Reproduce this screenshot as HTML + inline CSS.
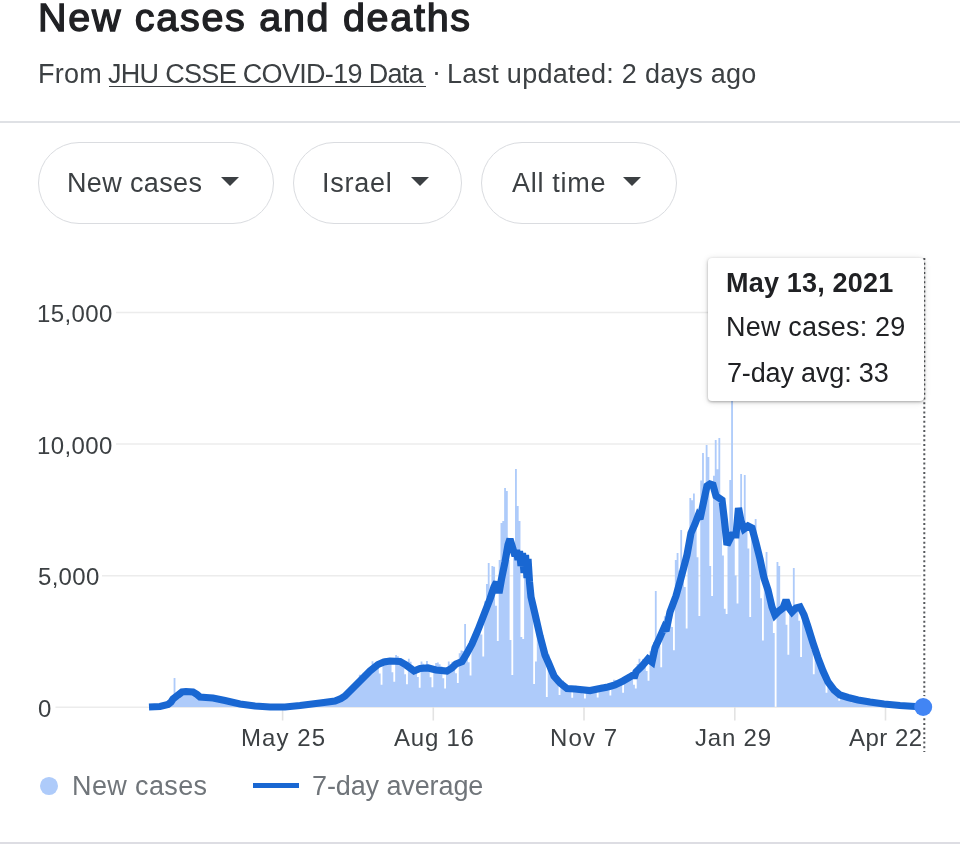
<!DOCTYPE html>
<html lang="en">
<head>
<meta charset="utf-8">
<title>New cases and deaths</title>
<style>
html,body{margin:0;padding:0;background:#fff;}
body{width:960px;height:844px;position:relative;overflow:hidden;font-family:"Liberation Sans", sans-serif;}
.t{position:absolute;white-space:pre;line-height:1;will-change:transform;font-family:"Liberation Sans", sans-serif;}
.chart{position:absolute;left:0;top:0;}
.divider{position:absolute;left:0;width:960px;top:121px;height:2px;background:#dfe1e5;}
.pill{position:absolute;top:141.5px;height:82.5px;box-sizing:border-box;border:1.6px solid #dadce0;border-radius:41px;background:#fff;}
.tri{position:absolute;width:0;height:0;border-left:9.5px solid transparent;border-right:9.5px solid transparent;border-top:9.5px solid #3c4043;top:177px;}
.link{position:absolute;left:108.5px;width:317.7px;top:85.8px;height:1.6px;background:#3c4043;}
.tip{position:absolute;left:707.6px;top:257.5px;width:216px;height:143px;background:#fff;border-radius:4px;box-shadow:0 1px 3px rgba(0,0,0,.30),0 1px 7px rgba(0,0,0,.13);}
.ldot{position:absolute;left:40px;top:777.2px;width:17.8px;height:17.8px;border-radius:50%;background:#aecbfa;}
.lline{position:absolute;left:253px;top:783px;width:46px;height:5.4px;background:#1967d2;}
.foot{position:absolute;left:0;top:842px;width:960px;height:2px;background:#dddde3;}
</style>
</head>
<body>
<svg class="chart" width="960" height="844" viewBox="0 0 960 844">
<g stroke="#ececec" stroke-width="1.6">
<line x1="116" y1="312.5" x2="921" y2="312.5"/>
<line x1="116" y1="444" x2="921" y2="444"/>
<line x1="102" y1="575.8" x2="921" y2="575.8"/>
<line x1="55.5" y1="707.2" x2="921" y2="707.2"/>
</g>
<g stroke="#e3e3e3" stroke-width="1.6">
<line x1="282.6" y1="707" x2="282.6" y2="720.5"/>
<line x1="433.3" y1="707" x2="433.3" y2="720.5"/>
<line x1="584" y1="707" x2="584" y2="720.5"/>
<line x1="734.8" y1="707" x2="734.8" y2="720.5"/>
<line x1="885.5" y1="707" x2="885.5" y2="720.5"/>
</g>
<path d="M160.91,707.0V706.0h1.816V707.0zM162.73,707.0V705.6h1.816V707.0zM164.54,707.0V705.2h1.816V707.0zM166.36,707.0V704.6h1.816V707.0zM168.18,707.0V703.2h1.816V707.0zM169.99,707.0V701.6h1.816V707.0zM171.81,707.0V698.2h1.816V707.0zM173.62,707.0V678.0h1.816V707.0zM175.44,707.0V696.5h1.816V707.0zM177.26,707.0V695.3h1.816V707.0zM179.07,707.0V690.8h1.816V707.0zM180.89,707.0V689.3h1.816V707.0zM182.70,707.0V690.3h1.816V707.0zM184.52,707.0V688.7h1.816V707.0zM186.34,707.0V691.6h1.816V707.0zM188.15,707.0V691.9h1.816V707.0zM189.97,707.0V692.4h1.816V707.0zM191.78,707.0V691.1h1.816V707.0zM193.60,707.0V691.4h1.816V707.0zM195.42,707.0V693.0h1.816V707.0zM197.23,707.0V693.7h1.816V707.0zM199.05,707.0V696.7h1.816V707.0zM200.86,707.0V697.3h1.816V707.0zM202.68,707.0V697.6h1.816V707.0zM204.50,707.0V696.5h1.816V707.0zM206.31,707.0V695.8h1.816V707.0zM208.13,707.0V697.3h1.816V707.0zM209.94,707.0V697.6h1.816V707.0zM211.76,707.0V697.7h1.816V707.0zM213.58,707.0V698.4h1.816V707.0zM215.39,707.0V699.0h1.816V707.0zM217.21,707.0V698.4h1.816V707.0zM219.02,707.0V698.0h1.816V707.0zM220.84,707.0V699.0h1.816V707.0zM222.66,707.0V699.8h1.816V707.0zM224.47,707.0V699.7h1.816V707.0zM226.29,707.0V701.1h1.816V707.0zM228.10,707.0V701.6h1.816V707.0zM229.92,707.0V701.2h1.816V707.0zM231.74,707.0V701.4h1.816V707.0zM233.55,707.0V701.9h1.816V707.0zM235.37,707.0V702.6h1.816V707.0zM237.18,707.0V703.4h1.816V707.0zM239.00,707.0V704.0h1.816V707.0zM240.82,707.0V704.3h1.816V707.0zM242.63,707.0V704.2h1.816V707.0zM244.45,707.0V704.2h1.816V707.0zM246.26,707.0V704.8h1.816V707.0zM248.08,707.0V705.0h1.816V707.0zM249.90,707.0V705.4h1.816V707.0zM251.71,707.0V705.7h1.816V707.0zM253.53,707.0V706.0h1.816V707.0zM255.34,707.0V706.0h1.816V707.0zM257.16,707.0V706.0h1.816V707.0zM258.98,707.0V706.3h1.816V707.0zM260.79,707.0V706.4h1.816V707.0zM291.66,707.0V706.3h1.816V707.0zM293.48,707.0V706.0h1.816V707.0zM295.30,707.0V705.8h1.816V707.0zM297.11,707.0V705.6h1.816V707.0zM298.93,707.0V705.3h1.816V707.0zM300.74,707.0V705.3h1.816V707.0zM302.56,707.0V705.1h1.816V707.0zM304.38,707.0V704.9h1.816V707.0zM306.19,707.0V704.2h1.816V707.0zM308.01,707.0V704.1h1.816V707.0zM309.82,707.0V703.8h1.816V707.0zM311.64,707.0V703.6h1.816V707.0zM313.46,707.0V703.2h1.816V707.0zM315.27,707.0V703.5h1.816V707.0zM317.09,707.0V703.4h1.816V707.0zM318.90,707.0V702.7h1.816V707.0zM320.72,707.0V702.1h1.816V707.0zM322.54,707.0V702.1h1.816V707.0zM324.35,707.0V701.5h1.816V707.0zM326.17,707.0V701.3h1.816V707.0zM327.98,707.0V701.9h1.816V707.0zM329.80,707.0V701.8h1.816V707.0zM331.62,707.0V700.9h1.816V707.0zM333.43,707.0V700.3h1.816V707.0zM335.25,707.0V699.8h1.816V707.0zM337.06,707.0V698.9h1.816V707.0zM338.88,707.0V698.7h1.816V707.0zM340.70,707.0V698.3h1.816V707.0zM342.51,707.0V697.3h1.816V707.0zM344.33,707.0V694.7h1.816V707.0zM346.14,707.0V691.4h1.816V707.0zM347.96,707.0V689.1h1.816V707.0zM349.78,707.0V688.1h1.816V707.0zM351.59,707.0V687.0h1.816V707.0zM353.41,707.0V686.9h1.816V707.0zM355.22,707.0V685.6h1.816V707.0zM357.04,707.0V682.1h1.816V707.0zM358.86,707.0V674.7h1.816V707.0zM360.67,707.0V674.7h1.816V707.0zM362.49,707.0V672.7h1.816V707.0zM364.30,707.0V671.7h1.816V707.0zM366.12,707.0V674.4h1.816V707.0zM367.94,707.0V673.3h1.816V707.0zM369.75,707.0V668.7h1.816V707.0zM371.57,707.0V661.2h1.816V707.0zM373.38,707.0V665.9h1.816V707.0zM375.20,707.0V665.1h1.816V707.0zM377.02,707.0V663.3h1.816V707.0zM378.83,707.0V673.5h1.816V707.0zM380.65,707.0V684.7h1.816V707.0zM382.46,707.0V660.5h1.816V707.0zM384.28,707.0V657.9h1.816V707.0zM386.10,707.0V658.9h1.816V707.0zM387.91,707.0V659.8h1.816V707.0zM389.73,707.0V658.4h1.816V707.0zM391.54,707.0V672.2h1.816V707.0zM393.36,707.0V681.8h1.816V707.0zM395.18,707.0V654.9h1.816V707.0zM396.99,707.0V656.2h1.816V707.0zM398.81,707.0V658.0h1.816V707.0zM400.62,707.0V659.1h1.816V707.0zM402.44,707.0V661.0h1.816V707.0zM404.26,707.0V674.3h1.816V707.0zM406.07,707.0V684.3h1.816V707.0zM407.89,707.0V658.8h1.816V707.0zM409.70,707.0V661.8h1.816V707.0zM411.52,707.0V665.5h1.816V707.0zM413.34,707.0V669.9h1.816V707.0zM415.15,707.0V669.7h1.816V707.0zM416.97,707.0V676.9h1.816V707.0zM418.78,707.0V687.8h1.816V707.0zM420.60,707.0V661.5h1.816V707.0zM422.42,707.0V663.8h1.816V707.0zM424.23,707.0V666.8h1.816V707.0zM426.05,707.0V661.1h1.816V707.0zM427.86,707.0V664.9h1.816V707.0zM429.68,707.0V677.3h1.816V707.0zM431.50,707.0V687.2h1.816V707.0zM433.31,707.0V668.2h1.816V707.0zM435.13,707.0V663.1h1.816V707.0zM436.94,707.0V662.6h1.816V707.0zM438.76,707.0V664.3h1.816V707.0zM440.58,707.0V666.3h1.816V707.0zM442.39,707.0V678.3h1.816V707.0zM444.21,707.0V688.6h1.816V707.0zM446.02,707.0V668.8h1.816V707.0zM447.84,707.0V661.4h1.816V707.0zM449.66,707.0V664.1h1.816V707.0zM451.47,707.0V661.7h1.816V707.0zM453.29,707.0V663.7h1.816V707.0zM455.10,707.0V673.3h1.816V707.0zM456.92,707.0V683.1h1.816V707.0zM458.74,707.0V653.3h1.816V707.0zM460.55,707.0V650.6h1.816V707.0zM462.37,707.0V651.1h1.816V707.0zM464.18,707.0V624.0h1.816V707.0zM466.00,707.0V646.8h1.816V707.0zM467.82,707.0V662.3h1.816V707.0zM469.63,707.0V675.5h1.816V707.0zM471.45,707.0V637.2h1.816V707.0zM473.26,707.0V632.7h1.816V707.0zM475.08,707.0V632.1h1.816V707.0zM476.90,707.0V625.8h1.816V707.0zM478.71,707.0V622.7h1.816V707.0zM480.53,707.0V634.4h1.816V707.0zM482.34,707.0V656.5h1.816V707.0zM484.16,707.0V601.2h1.816V707.0zM485.98,707.0V584.1h1.816V707.0zM487.79,707.0V563.0h1.816V707.0zM489.61,707.0V591.0h1.816V707.0zM491.42,707.0V566.0h1.816V707.0zM493.24,707.0V566.7h1.816V707.0zM495.06,707.0V605.8h1.816V707.0zM496.87,707.0V641.0h1.816V707.0zM498.69,707.0V560.0h1.816V707.0zM500.50,707.0V523.0h1.816V707.0zM502.32,707.0V521.0h1.816V707.0zM504.14,707.0V488.0h1.816V707.0zM505.95,707.0V491.0h1.816V707.0zM507.77,707.0V560.0h1.816V707.0zM509.58,707.0V640.0h1.816V707.0zM511.40,707.0V675.0h1.816V707.0zM513.22,707.0V545.0h1.816V707.0zM515.03,707.0V469.0h1.816V707.0zM516.85,707.0V506.0h1.816V707.0zM518.66,707.0V521.0h1.816V707.0zM520.48,707.0V637.0h1.816V707.0zM522.30,707.0V639.1h1.816V707.0zM524.11,707.0V565.1h1.816V707.0zM525.93,707.0V579.4h1.816V707.0zM527.74,707.0V573.1h1.816V707.0zM529.56,707.0V595.1h1.816V707.0zM531.38,707.0V605.6h1.816V707.0zM533.19,707.0V684.0h1.816V707.0zM535.01,707.0V661.5h1.816V707.0zM536.82,707.0V628.5h1.816V707.0zM538.64,707.0V636.2h1.816V707.0zM540.46,707.0V643.2h1.816V707.0zM542.27,707.0V642.5h1.816V707.0zM544.09,707.0V661.6h1.816V707.0zM545.90,707.0V697.0h1.816V707.0zM547.72,707.0V654.6h1.816V707.0zM549.54,707.0V660.3h1.816V707.0zM551.35,707.0V667.4h1.816V707.0zM553.17,707.0V672.9h1.816V707.0zM554.98,707.0V678.3h1.816V707.0zM556.80,707.0V685.3h1.816V707.0zM558.62,707.0V694.9h1.816V707.0zM560.43,707.0V683.3h1.816V707.0zM562.25,707.0V680.4h1.816V707.0zM564.06,707.0V685.7h1.816V707.0zM565.88,707.0V686.6h1.816V707.0zM567.70,707.0V686.4h1.816V707.0zM569.51,707.0V691.9h1.816V707.0zM571.33,707.0V697.8h1.816V707.0zM573.14,707.0V686.7h1.816V707.0zM574.96,707.0V685.7h1.816V707.0zM576.78,707.0V686.2h1.816V707.0zM578.59,707.0V688.9h1.816V707.0zM580.41,707.0V688.1h1.816V707.0zM582.22,707.0V693.5h1.816V707.0zM584.04,707.0V698.5h1.816V707.0zM585.86,707.0V687.3h1.816V707.0zM587.67,707.0V687.3h1.816V707.0zM589.49,707.0V688.2h1.816V707.0zM591.30,707.0V687.6h1.816V707.0zM593.12,707.0V687.1h1.816V707.0zM594.94,707.0V692.6h1.816V707.0zM596.75,707.0V697.5h1.816V707.0zM598.57,707.0V686.4h1.816V707.0zM600.38,707.0V684.8h1.816V707.0zM602.20,707.0V685.0h1.816V707.0zM604.02,707.0V685.8h1.816V707.0zM605.83,707.0V685.5h1.816V707.0zM607.65,707.0V690.5h1.816V707.0zM609.46,707.0V695.5h1.816V707.0zM611.28,707.0V682.5h1.816V707.0zM613.10,707.0V679.8h1.816V707.0zM614.91,707.0V680.1h1.816V707.0zM616.73,707.0V682.3h1.816V707.0zM618.54,707.0V680.6h1.816V707.0zM620.36,707.0V684.9h1.816V707.0zM622.18,707.0V692.7h1.816V707.0zM623.99,707.0V678.4h1.816V707.0zM625.81,707.0V675.8h1.816V707.0zM627.62,707.0V674.6h1.816V707.0zM629.44,707.0V676.0h1.816V707.0zM631.26,707.0V674.5h1.816V707.0zM633.07,707.0V684.8h1.816V707.0zM634.89,707.0V688.6h1.816V707.0zM636.70,707.0V664.1h1.816V707.0zM638.52,707.0V658.8h1.816V707.0zM640.34,707.0V664.4h1.816V707.0zM642.15,707.0V658.9h1.816V707.0zM643.97,707.0V657.9h1.816V707.0zM645.78,707.0V671.1h1.816V707.0zM647.60,707.0V680.7h1.816V707.0zM649.42,707.0V651.3h1.816V707.0zM651.23,707.0V655.5h1.816V707.0zM653.05,707.0V642.0h1.816V707.0zM654.86,707.0V591.0h1.816V707.0zM656.68,707.0V637.3h1.816V707.0zM658.50,707.0V646.3h1.816V707.0zM660.31,707.0V667.2h1.816V707.0zM662.13,707.0V625.6h1.816V707.0zM663.94,707.0V616.3h1.816V707.0zM665.76,707.0V618.1h1.816V707.0zM667.58,707.0V612.9h1.816V707.0zM669.39,707.0V608.6h1.816V707.0zM671.21,707.0V626.9h1.816V707.0zM673.02,707.0V650.2h1.816V707.0zM674.84,707.0V560.0h1.816V707.0zM676.66,707.0V553.0h1.816V707.0zM678.47,707.0V570.4h1.816V707.0zM680.29,707.0V530.0h1.816V707.0zM682.10,707.0V563.3h1.816V707.0zM683.92,707.0V586.9h1.816V707.0zM685.74,707.0V628.5h1.816V707.0zM687.55,707.0V540.3h1.816V707.0zM689.37,707.0V498.0h1.816V707.0zM691.18,707.0V500.2h1.816V707.0zM693.00,707.0V493.4h1.816V707.0zM694.82,707.0V519.9h1.816V707.0zM696.63,707.0V557.2h1.816V707.0zM698.45,707.0V616.0h1.816V707.0zM700.26,707.0V480.5h1.816V707.0zM702.08,707.0V453.0h1.816V707.0zM703.90,707.0V484.9h1.816V707.0zM705.71,707.0V445.0h1.816V707.0zM707.53,707.0V457.0h1.816V707.0zM709.34,707.0V566.0h1.816V707.0zM711.16,707.0V595.9h1.816V707.0zM712.98,707.0V475.7h1.816V707.0zM714.79,707.0V439.9h1.816V707.0zM716.61,707.0V469.2h1.816V707.0zM718.42,707.0V438.0h1.816V707.0zM720.24,707.0V497.6h1.816V707.0zM722.06,707.0V555.4h1.816V707.0zM723.87,707.0V608.8h1.816V707.0zM725.69,707.0V614.0h1.816V707.0zM727.50,707.0V542.2h1.816V707.0zM729.32,707.0V480.0h1.816V707.0zM731.14,707.0V392.0h1.816V707.0zM732.95,707.0V535.0h1.816V707.0zM734.77,707.0V575.4h1.816V707.0zM736.58,707.0V603.6h1.816V707.0zM738.40,707.0V512.2h1.816V707.0zM740.22,707.0V474.0h1.816V707.0zM742.03,707.0V526.2h1.816V707.0zM743.85,707.0V475.0h1.816V707.0zM745.66,707.0V527.1h1.816V707.0zM747.48,707.0V548.6h1.816V707.0zM749.30,707.0V616.9h1.816V707.0zM751.11,707.0V528.1h1.816V707.0zM752.93,707.0V534.9h1.816V707.0zM754.74,707.0V519.0h1.816V707.0zM756.56,707.0V548.9h1.816V707.0zM758.38,707.0V556.1h1.816V707.0zM760.19,707.0V598.3h1.816V707.0zM762.01,707.0V640.6h1.816V707.0zM763.82,707.0V580.2h1.816V707.0zM765.64,707.0V552.0h1.816V707.0zM767.46,707.0V591.5h1.816V707.0zM769.27,707.0V599.3h1.816V707.0zM771.09,707.0V607.0h1.816V707.0zM772.90,707.0V633.0h1.816V707.0zM776.54,707.0V562.0h1.816V707.0zM778.35,707.0V566.0h1.816V707.0zM780.17,707.0V609.4h1.816V707.0zM781.98,707.0V608.1h1.816V707.0zM783.80,707.0V603.4h1.816V707.0zM785.62,707.0V624.7h1.816V707.0zM787.43,707.0V654.8h1.816V707.0zM789.25,707.0V609.5h1.816V707.0zM791.06,707.0V612.0h1.816V707.0zM792.88,707.0V568.0h1.816V707.0zM794.70,707.0V608.4h1.816V707.0zM796.51,707.0V607.6h1.816V707.0zM798.33,707.0V620.8h1.816V707.0zM800.14,707.0V657.0h1.816V707.0zM801.96,707.0V612.7h1.816V707.0zM803.78,707.0V617.1h1.816V707.0zM805.59,707.0V622.5h1.816V707.0zM807.41,707.0V622.3h1.816V707.0zM809.22,707.0V623.8h1.816V707.0zM811.04,707.0V649.9h1.816V707.0zM812.86,707.0V674.2h1.816V707.0zM814.67,707.0V644.9h1.816V707.0zM816.49,707.0V648.5h1.816V707.0zM818.30,707.0V659.3h1.816V707.0zM820.12,707.0V664.4h1.816V707.0zM821.94,707.0V670.4h1.816V707.0zM823.75,707.0V679.5h1.816V707.0zM825.57,707.0V692.8h1.816V707.0zM827.38,707.0V680.9h1.816V707.0zM829.20,707.0V682.6h1.816V707.0zM831.02,707.0V683.7h1.816V707.0zM832.83,707.0V686.8h1.816V707.0zM834.65,707.0V689.6h1.816V707.0zM836.46,707.0V695.8h1.816V707.0zM838.28,707.0V700.7h1.816V707.0zM840.10,707.0V694.3h1.816V707.0zM841.91,707.0V694.0h1.816V707.0zM843.73,707.0V695.8h1.816V707.0zM845.54,707.0V696.1h1.816V707.0zM847.36,707.0V697.2h1.816V707.0zM849.18,707.0V699.1h1.816V707.0zM850.99,707.0V702.2h1.816V707.0zM852.81,707.0V697.9h1.816V707.0zM854.62,707.0V698.4h1.816V707.0zM856.44,707.0V698.4h1.816V707.0zM858.26,707.0V699.7h1.816V707.0zM860.07,707.0V700.1h1.816V707.0zM861.89,707.0V702.3h1.816V707.0zM863.70,707.0V704.0h1.816V707.0zM865.52,707.0V700.8h1.816V707.0zM867.34,707.0V700.8h1.816V707.0zM869.15,707.0V701.7h1.816V707.0zM870.97,707.0V701.8h1.816V707.0zM872.78,707.0V702.6h1.816V707.0zM874.60,707.0V703.7h1.816V707.0zM876.42,707.0V705.1h1.816V707.0zM878.23,707.0V702.9h1.816V707.0zM880.05,707.0V703.2h1.816V707.0zM881.86,707.0V703.7h1.816V707.0zM883.68,707.0V703.9h1.816V707.0zM885.50,707.0V704.1h1.816V707.0zM887.31,707.0V704.8h1.816V707.0zM889.13,707.0V705.7h1.816V707.0zM890.94,707.0V704.4h1.816V707.0zM892.76,707.0V704.5h1.816V707.0zM894.58,707.0V704.8h1.816V707.0zM896.39,707.0V705.0h1.816V707.0zM898.21,707.0V705.3h1.816V707.0zM900.02,707.0V705.9h1.816V707.0zM901.84,707.0V706.3h1.816V707.0zM903.66,707.0V705.7h1.816V707.0zM905.47,707.0V705.7h1.816V707.0zM907.29,707.0V705.9h1.816V707.0zM909.10,707.0V706.1h1.816V707.0zM910.92,707.0V706.2h1.816V707.0z" fill="#aecbfa" shape-rendering="geometricPrecision"/>
<line x1="924.3" y1="258" x2="924.3" y2="752" stroke="#55585c" stroke-width="2" stroke-dasharray="2 2.65"/>
<circle cx="923.2" cy="707" r="11" fill="#fff"/>
<path d="M149.0,707.0 L160.0,706.5 L168.0,704.5 L171.0,702.0 L173.0,699.0 L178.0,695.0 L182.0,692.0 L186.0,691.5 L193.0,692.0 L197.0,694.5 L200.0,697.0 L206.0,697.5 L213.0,698.0 L225.0,700.5 L240.0,704.0 L255.0,706.0 L270.0,707.0 L285.0,707.0 L300.0,705.5 L320.0,703.0 L335.0,701.0 L341.0,698.5 L345.0,696.0 L350.0,691.0 L355.0,686.0 L360.0,681.0 L365.0,676.0 L370.0,671.0 L378.0,664.5 L384.0,662.0 L390.0,661.0 L400.0,661.5 L406.0,665.0 L414.0,671.0 L420.0,668.5 L428.0,668.0 L436.0,670.0 L447.0,671.0 L452.0,668.0 L456.0,664.0 L462.0,661.5 L466.0,655.0 L472.0,644.0 L478.0,630.0 L484.0,614.5 L490.0,599.0 L494.0,587.0 L496.5,582.0 L499.0,593.0 L501.5,579.0 L505.0,562.0 L508.0,545.0 L510.0,539.0 L513.0,549.0 L515.0,556.0 L516.5,550.0 L518.0,560.0 L519.5,551.0 L521.0,566.0 L522.5,553.0 L524.0,573.0 L525.5,555.0 L527.0,578.0 L528.0,559.0 L529.5,582.0 L531.0,597.0 L535.0,614.0 L540.0,636.0 L545.0,655.0 L549.0,664.0 L554.0,676.0 L560.0,683.0 L567.0,688.5 L575.0,689.0 L590.0,690.5 L600.0,688.5 L608.0,687.0 L615.0,685.0 L623.0,681.0 L630.0,677.0 L633.0,675.0 L634.0,678.0 L636.0,672.0 L642.0,666.0 L648.0,659.0 L652.0,662.0 L655.0,648.0 L660.0,637.0 L664.0,628.0 L666.0,631.0 L670.0,612.0 L676.0,596.0 L681.0,578.0 L687.0,555.0 L691.0,533.0 L695.0,524.0 L698.0,516.0 L700.0,519.0 L704.0,500.0 L707.0,486.0 L710.0,484.0 L713.0,485.0 L716.0,496.0 L719.0,498.0 L722.0,500.0 L724.5,521.0 L727.0,545.0 L729.0,541.0 L732.0,535.0 L736.0,535.0 L738.5,508.0 L741.0,521.0 L744.0,529.0 L748.0,526.0 L752.0,528.0 L756.0,543.0 L760.0,559.0 L764.0,578.0 L768.0,590.0 L772.0,607.0 L775.0,615.0 L779.0,611.0 L783.0,608.0 L786.0,600.0 L789.0,608.0 L792.0,612.0 L796.0,608.0 L800.0,607.0 L804.0,615.0 L808.0,627.0 L813.0,643.0 L818.0,658.0 L823.0,671.0 L828.0,682.0 L834.0,690.0 L840.0,695.0 L848.0,697.5 L858.0,700.0 L870.0,702.0 L884.0,704.0 L900.0,705.5 L923.2,707.0" fill="none" stroke="#1967d2" stroke-width="7.2" stroke-linejoin="miter" stroke-miterlimit="2.5" stroke-linecap="butt"/>
<circle cx="923.2" cy="707" r="9" fill="#4285f4"/>
</svg>
<div class="divider"></div>
<div class="pill" style="left:37.75px;width:236.5px"></div>
<div class="pill" style="left:293.3px;width:169px"></div>
<div class="pill" style="left:481.3px;width:195.5px"></div>
<div class="tri" style="left:220.5px"></div>
<div class="tri" style="left:411px"></div>
<div class="tri" style="left:623.3px"></div>
<div class="tip"></div>
<div class="link"></div>
<div class="ldot"></div>
<div class="lline"></div>
<div class="foot"></div>

<div class="t" id="title" style="left:37.65px;top:-1.84px;font-size:39.5px;font-weight:400;color:#202124;letter-spacing:1.708px;-webkit-text-stroke:1.30px #202124">New cases and deaths</div>
<div class="t" id="s1" style="left:37.75px;top:61.34px;font-size:27px;font-weight:400;color:#3c4043;letter-spacing:0.250px">From</div>
<div class="t" id="s2" style="left:108.40px;top:61.34px;font-size:27px;font-weight:400;color:#3c4043;letter-spacing:-0.690px">JHU CSSE COVID-19 Data</div>
<div class="t" id="s3" style="left:432.20px;top:59.44px;font-size:27px;font-weight:400;color:#3c4043;letter-spacing:0.000px">·</div>
<div class="t" id="s4" style="left:447.10px;top:61.34px;font-size:27px;font-weight:400;color:#3c4043;letter-spacing:0.267px">Last updated: 2 days ago</div>
<div class="t" id="p1" style="left:67.40px;top:169.64px;font-size:27px;font-weight:400;color:#3c4043;letter-spacing:0.363px">New cases</div>
<div class="t" id="p2" style="left:321.70px;top:169.64px;font-size:27px;font-weight:400;color:#3c4043;letter-spacing:0.740px">Israel</div>
<div class="t" id="p3" style="left:511.80px;top:169.64px;font-size:27px;font-weight:400;color:#3c4043;letter-spacing:0.700px">All time</div>
<div class="t" id="y3" style="left:37.40px;top:301.68px;font-size:24px;font-weight:400;color:#3c4043;letter-spacing:0.400px">15,000</div>
<div class="t" id="y2" style="left:37.40px;top:433.68px;font-size:24px;font-weight:400;color:#3c4043;letter-spacing:0.400px">10,000</div>
<div class="t" id="y1" style="left:38.00px;top:565.18px;font-size:24px;font-weight:400;color:#3c4043;letter-spacing:0.300px">5,000</div>
<div class="t" id="y0" style="left:37.50px;top:696.68px;font-size:24px;font-weight:400;color:#3c4043;letter-spacing:0.000px">0</div>
<div class="t" id="x1" style="left:240.70px;top:726.08px;font-size:24px;font-weight:400;color:#3c4043;letter-spacing:1.060px">May 25</div>
<div class="t" id="x2" style="left:394.00px;top:726.08px;font-size:24px;font-weight:400;color:#3c4043;letter-spacing:0.760px">Aug 16</div>
<div class="t" id="x3" style="left:549.60px;top:726.08px;font-size:24px;font-weight:400;color:#3c4043;letter-spacing:1.100px">Nov 7</div>
<div class="t" id="x4" style="left:695.25px;top:726.08px;font-size:24px;font-weight:400;color:#3c4043;letter-spacing:0.800px">Jan 29</div>
<div class="t" id="x5" style="left:848.50px;top:726.08px;font-size:24px;font-weight:400;color:#3c4043;letter-spacing:0.500px">Apr 22</div>
<div class="t" id="t1" style="left:725.50px;top:270.04px;font-size:27px;font-weight:700;color:#202124;letter-spacing:0.191px">May 13, 2021</div>
<div class="t" id="t2" style="left:725.50px;top:314.24px;font-size:27px;font-weight:400;color:#202124;letter-spacing:0.188px">New cases: 29</div>
<div class="t" id="t3" style="left:726.50px;top:360.34px;font-size:27px;font-weight:400;color:#202124;letter-spacing:-0.158px">7-day avg: 33</div>
<div class="t" id="l1" style="left:71.75px;top:773.24px;font-size:27px;font-weight:400;color:#70757a;letter-spacing:0.381px">New cases</div>
<div class="t" id="l2" style="left:311.60px;top:773.24px;font-size:27px;font-weight:400;color:#70757a;letter-spacing:-0.108px">7-day average</div>
</body>
</html>
